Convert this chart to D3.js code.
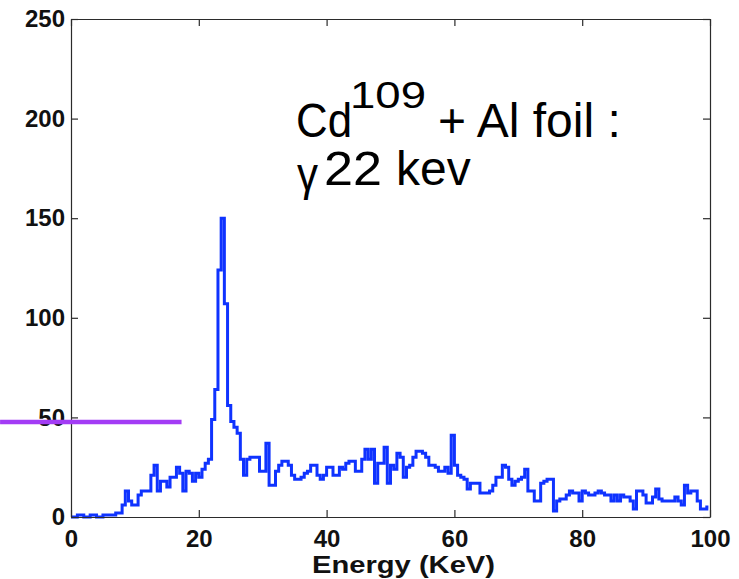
<!DOCTYPE html>
<html>
<head>
<meta charset="utf-8">
<script src="https://cdn.jsdelivr.net/npm/d3@7"></script>
<style>
  html, body { margin: 0; padding: 0; background: #ffffff; }
  svg { display: block; }
  text { font-family: "Liberation Sans", Arial, Helvetica, sans-serif; }
</style>
</head>
<body>
<svg id="chart" width="739" height="579"></svg>
<script>
// Spectrum: counts per 0.5 keV channel, starting at 0 keV
const binWidth = 0.5;
const counts = [
  0, 0, 1, 1, 0, 0, 1, 1, 0, 0,
  1, 1, 1, 1, 2, 2, 6, 13, 8, 6,
  6, 11, 13, 13, 13, 21, 26, 13, 18, 18,
  15, 20, 20, 25, 22, 13, 23, 22, 18, 22,
  20, 24, 27, 29, 49, 64, 124, 150, 107, 56,
  48, 45, 42, 29, 21, 29, 30, 30, 30, 23,
  23, 37, 16, 16, 23, 26, 28, 28, 26, 21,
  19, 19, 20, 22, 23, 26, 26, 21, 19, 21,
  25, 25, 21, 21, 25, 24, 27, 28, 28, 23,
  23, 29, 34, 29, 34, 17, 27, 27, 35, 17,
  26, 24, 32, 30, 20, 25, 26, 30, 33, 33,
  32, 30, 26, 26, 25, 23, 23, 25, 22, 41,
  26, 21, 20, 19, 14, 17, 17, 17, 12, 12,
  12, 13, 16, 20, 20, 26, 25, 19, 16, 18,
  19, 20, 24, 13, 13, 8, 8, 17, 18, 19,
  19, 3, 8, 9, 9, 11, 13, 12, 12, 8,
  13, 12, 11, 11, 12, 13, 12, 11, 11, 8,
  11, 8, 11, 10, 10, 8, 4, 13, 13, 11,
  7, 7, 10, 14, 9, 8, 8, 8, 8, 10,
  8, 6, 16, 12, 13, 13, 8, 4, 4, 5
];

const xTicks = [0, 20, 40, 60, 80, 100];
const yTicks = [0, 50, 100, 150, 200, 250];
const xDomain = [0, 100];
const yDomain = [0, 250];
const xLabel = "Energy (KeV)";

// Horizontal marker line (energy range, count level)
const markerEnergy = [-11.1, 17.3];
const markerLevel = 47.7;

const svg = d3.select("#chart");
const margin = { left: 71, right: 29, top: 19, bottom: 62 };
const W = +svg.attr("width"), H = +svg.attr("height");

const x = d3.scaleLinear().domain(xDomain).range([margin.left, W - margin.right]);
const y = d3.scaleLinear().domain(yDomain).range([H - margin.bottom, margin.top]);

const axisColor = "#2b2b2b";
const tickLen = 7;

// Step histogram
const pts = counts.map((c, i) => [i * binWidth, c]);
pts.push([counts.length * binWidth - binWidth / 2, counts[counts.length - 1]]);
const line = d3.line()
  .x(d => x(d[0]))
  .y(d => y(d[1]))
  .curve(d3.curveStepAfter);

svg.append("path")
  .datum(pts)
  .attr("d", line)
  .attr("fill", "none")
  .attr("stroke", "#0f33ff")
  .attr("stroke-width", 3)
  .attr("stroke-linejoin", "miter");

// Axes (box with inward ticks)
const gx = svg.append("g").attr("transform", `translate(0,${y(0)})`)
  .call(d3.axisBottom(x).tickValues(xTicks).tickSizeInner(-tickLen).tickSizeOuter(0).tickPadding(13));
const gxt = svg.append("g").attr("transform", `translate(0,${y(250)})`)
  .call(d3.axisTop(x).tickValues(xTicks).tickSizeInner(-tickLen).tickSizeOuter(0).tickFormat(""));
const gy = svg.append("g").attr("transform", `translate(${x(0)},0)`)
  .call(d3.axisLeft(y).tickValues(yTicks).tickSizeInner(-tickLen).tickSizeOuter(0).tickPadding(6));
const gyr = svg.append("g").attr("transform", `translate(${x(100)},0)`)
  .call(d3.axisRight(y).tickValues(yTicks).tickSizeInner(-tickLen).tickSizeOuter(0).tickFormat(""));

[gx, gxt, gy, gyr].forEach(g => {
  g.select(".domain").attr("stroke", axisColor).attr("stroke-width", 1.2);
  g.selectAll(".tick line").attr("stroke", axisColor).attr("stroke-width", 1.2);
  g.selectAll(".tick text")
    .attr("fill", "#111")
    .style("font-size", "24px")
    .style("font-weight", "bold")
    .style("font-family", "'Liberation Sans', Arial, sans-serif");
});

// Marker line drawn over the axes
svg.append("line")
  .attr("x1", x(markerEnergy[0])).attr("x2", x(markerEnergy[1]))
  .attr("y1", y(markerLevel)).attr("y2", y(markerLevel))
  .attr("stroke", "#a33cf5")
  .attr("stroke-width", 4.7);

// Axis label
svg.append("text")
  .attr("x", 312).attr("y", 573)
  .attr("textLength", 183)
  .attr("lengthAdjust", "spacingAndGlyphs")
  .style("font-size", "24px")
  .style("font-weight", "bold")
  .attr("fill", "#111")
  .text(xLabel);

// Annotation
const note = svg.append("g").attr("fill", "#000");
const t1 = note.append("text").attr("y", 137).style("font-size", "48px");
t1.append("tspan").attr("x", 296).attr("textLength", 56)
  .attr("lengthAdjust", "spacingAndGlyphs").text("Cd");
t1.append("tspan").attr("x", 350).attr("y", 108).style("font-size", "36px")
  .attr("textLength", 76).attr("lengthAdjust", "spacingAndGlyphs").text("109");
t1.append("tspan").attr("x", 438).attr("y", 137).text("+ Al foil :");

const t2 = note.append("text").attr("y", 185).style("font-size", "48px");
t2.append("tspan").attr("x", 297).attr("y", 190).style("font-size", "46px")
  .attr("textLength", 21).attr("lengthAdjust", "spacingAndGlyphs").text("γ");
t2.append("tspan").attr("x", 324).attr("y", 185).attr("textLength", 58)
  .attr("lengthAdjust", "spacingAndGlyphs").text("22");
t2.append("tspan").attr("x", 396).text("kev");
</script>
</body>
</html>
